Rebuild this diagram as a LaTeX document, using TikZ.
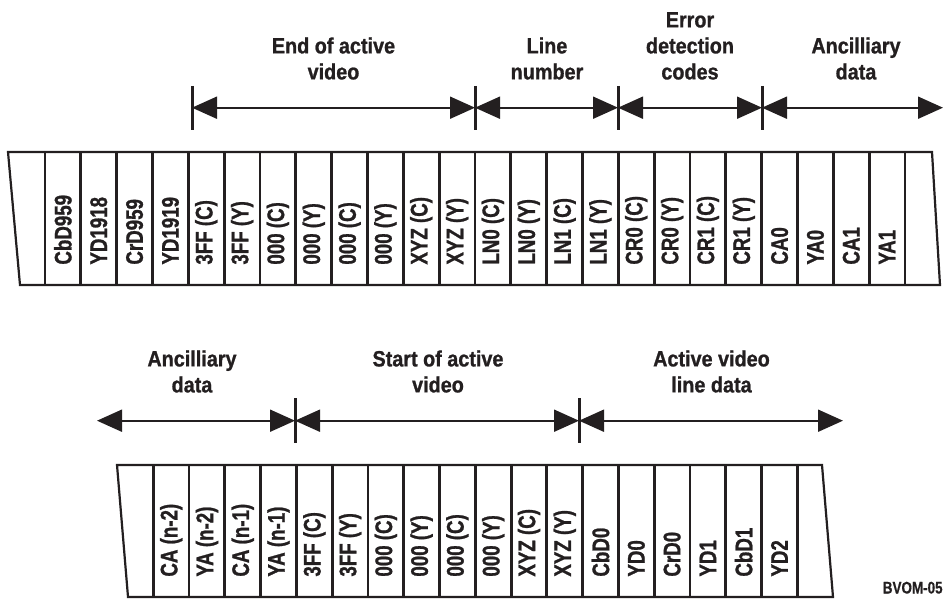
\documentclass[tikz,border=0pt]{standalone}
\usepackage{fontspec}
\setmainfont{Liberation Sans}
\newfontfamily\cellfont[FakeStretch=0.78,FakeBold=1]{Liberation Sans}
\newfontfamily\labfont[FakeStretch=0.9,FakeBold=1]{Liberation Sans}
\newfontfamily\tagfont[FakeStretch=0.8,FakeBold=0.6]{Liberation Sans}
\usetikzlibrary{arrows.meta}
\definecolor{ink}{RGB}{35,31,32}
\begin{document}
\begin{tikzpicture}[x=0.5pt,y=-0.5pt,
  band/.style={draw=ink, line width=1.1pt, line join=miter},
  sep/.style={draw=ink, line width=1.4pt},
  celltext/.style={rotate=90, anchor=west, inner sep=0pt, text=ink,
    font=\cellfont\bfseries\fontsize{12}{14}\selectfont},
  lab/.style={align=center, anchor=south, inner sep=0pt, text=ink,
    font=\labfont\bfseries\fontsize{11}{13}\selectfont},
  bar/.style={draw=ink, line width=1.5pt},
  dim/.style={draw=ink, line width=1pt,
    {Triangle[length=12.5pt,width=11pt]}-{Triangle[length=12.5pt,width=11pt]}}
]
\useasboundingbox (0,0) rectangle (944,599);

% ---------- top band ----------
\draw[band] (8,152) -- (932,152) -- (940,285) -- (20,285) -- cycle;
\foreach \i in {0,...,24}
  \draw[sep] ({45+35.833*\i},152) -- ({45+35.833*\i},285);
\foreach \t [count=\i from 0] in {CbD959,YD1918,CrD959,YD1919,3FF (C),3FF (Y),000 (C),000 (Y),000 (C),000 (Y),XYZ (C),XYZ (Y),LN0 (C),LN0 (Y),LN1 (C),LN1 (Y),CR0 (C),CR0 (Y),CR1 (C),CR1 (Y),CA0,YA0,CA1,YA1}
  \node[celltext] (t\i) at ({45+35.833*(\i+0.5)},265) {\t};

% ---------- top dimension arrows ----------
\coordinate (ta) at (192,107.7);
\coordinate (tb) at (475,107.7);
\coordinate (tc) at (618,107.7);
\coordinate (td) at (762,107.7);
\coordinate (te) at (943,107.7);
\foreach \x in {192,475,618,762}
  \draw[bar] (\x,86) -- (\x,130);
\draw[dim] (ta) -- (tb);
\draw[dim] (tb) -- (tc);
\draw[dim] (tc) -- (td);
\draw[dim] (td) -- (te);

\node[lab] (l1) at (333.5,80) {End of active\\video};
\node[lab] (l2) at (547,80) {Line\\number};
\node[lab] (l3) at (690,80) {Error\\detection\\codes};
\node[lab] (l4) at (856,80) {Ancilliary\\data};

% ---------- bottom band ----------
\draw[band] (117,465) -- (822,465) -- (833,597) -- (128,597) -- cycle;
\foreach \i in {0,...,18}
  \draw[sep] ({153.3+35.78*\i},465) -- ({153.3+35.78*\i},597);
\foreach \t [count=\i from 0] in {CA (n-2),YA (n-2),CA (n-1),YA (n-1),3FF (C),3FF (Y),000 (C),000 (Y),000 (C),000 (Y),XYZ (C),XYZ (Y),CbD0,YD0,CrD0,YD1,CbD1,YD2}
  \node[celltext] (b\i) at ({153.3+35.78*(\i+0.5)},577) {\t};

% ---------- bottom dimension arrows ----------
\coordinate (ba) at (97,420.7);
\coordinate (bb) at (295,420.7);
\coordinate (bc) at (579,420.7);
\coordinate (bd) at (843,420.7);
\foreach \x in {295,579}
  \draw[bar] (\x,398) -- (\x,443);
\draw[dim] (ba) -- (bb);
\draw[dim] (bb) -- (bc);
\draw[dim] (bc) -- (bd);

\node[lab] (l5) at (192,393) {Ancilliary\\data};
\node[lab] (l6) at (438,393) {Start of active\\video};
\node[lab] (l7) at (711.5,393) {Active video\\line data};

\node[anchor=base east, inner sep=0pt, text=ink,
  font=\tagfont\bfseries\fontsize{8.4}{10}\selectfont] (tag) at (943,593.5) {BVOM-05};
\end{tikzpicture}
\end{document}
